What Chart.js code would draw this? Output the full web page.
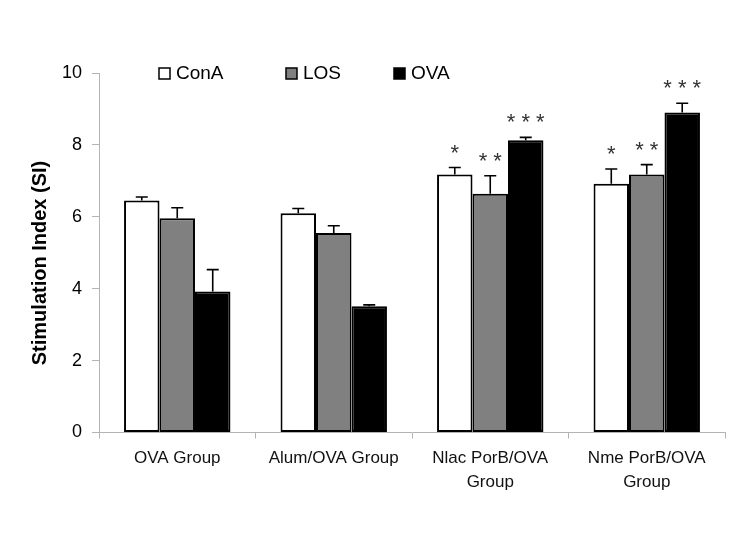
<!DOCTYPE html>
<html>
<head>
<meta charset="utf-8">
<script src="https://cdn.jsdelivr.net/npm/chart.js@4/dist/chart.umd.min.js"></script>
<style>
  body { margin: 0; background: #fff; }
</style>
</head>
<body>
<canvas id="si-chart" width="750" height="536"></canvas>
<script>
// данные графика
const categories = [['OVA Group'], ['Alum/OVA Group'], ['Nlac PorB/OVA', 'Group'], ['Nme PorB/OVA', 'Group']];
const seriesNames = ['ConA', 'LOS', 'OVA'];
const conA = [6.45, 6.10, 7.18, 6.92];
const conAErr = [0.10, 0.13, 0.19, 0.41];
const los = [5.96, 5.55, 6.64, 7.18];
const losErr = [0.29, 0.20, 0.50, 0.27];
const ova = [3.92, 3.51, 8.13, 8.90];
const ovaErr = [0.61, 0.04, 0.08, 0.26];
const conAStars = ['', '', '*', '*'];
const losStars = ['', '', '**', '**'];
const ovaStars = ['', '', '***', '***'];
const yTicks = [0, 2, 4, 6, 8, 10];
const yTitle = 'Stimulation Index (SI)';

const FONT = 'Arial, "Liberation Sans", sans-serif';
const axisColor = '#b4b4b4';

// усы погрешностей (только вверх) и звёздочки
const errorBarsPlugin = {
    id: 'errorBars',
    afterDatasetsDraw(chart) {
        const ctx = chart.ctx;
        const yScale = chart.scales.y;
        chart.data.datasets.forEach((ds, i) => {
            const meta = chart.getDatasetMeta(i);
            meta.data.forEach((bar, j) => {
                const top = yScale.getPixelForValue(ds.data[j] + ds.errors[j]);
                ctx.save();
                ctx.strokeStyle = '#000';
                ctx.lineWidth = 1.6;
                ctx.beginPath();
                ctx.moveTo(bar.x, bar.y);
                ctx.lineTo(bar.x, top);
                ctx.moveTo(bar.x - 6, top);
                ctx.lineTo(bar.x + 6, top);
                ctx.stroke();

                const s = ds.stars[j];
                if (s) {
                    ctx.font = '22px ' + FONT;
                    ctx.fillStyle = '#333';
                    ctx.textAlign = 'center';
                    ctx.textBaseline = 'alphabetic';
                    ctx.fillText(s.split('').join(' '), bar.x, top - 8);
                }
                ctx.restore();
            });
        });
    }
};

// легенда и подпись оси вручную, как на картинке
const legendPlugin = {
    id: 'customLegend',
    afterDraw(chart) {
        const ctx = chart.ctx;
        const xs = [159, 286, 394];
        ctx.save();
        chart.data.datasets.forEach((ds, i) => {
            ctx.fillStyle = ds.backgroundColor;
            ctx.fillRect(xs[i], 68, 11, 11);
            ctx.strokeStyle = '#000';
            ctx.lineWidth = 1.5;
            ctx.strokeRect(xs[i], 68, 11, 11);
            ctx.fillStyle = '#000';
            ctx.font = '19px ' + FONT;
            ctx.textBaseline = 'middle';
            ctx.textAlign = 'left';
            ctx.fillText(ds.label, xs[i] + 17, 74);
        });

        // заголовок оси Y
        ctx.translate(40, 263);
        ctx.rotate(-Math.PI / 2);
        ctx.font = 'bold 20px ' + FONT;
        ctx.textAlign = 'center';
        ctx.textBaseline = 'middle';
        ctx.fillStyle = '#000';
        ctx.fillText(yTitle, 0, 0);
        ctx.restore();
    }
};

const ctx = document.getElementById('si-chart').getContext('2d');
new Chart(ctx, {
    type: 'bar',
    data: {
        labels: categories,
        datasets: [
            { label: seriesNames[0], data: conA, errors: conAErr, stars: conAStars, backgroundColor: '#ffffff', borderColor: '#000', borderWidth: 2 },
            { label: seriesNames[1], data: los, errors: losErr, stars: losStars, backgroundColor: '#808080', borderColor: '#000', borderWidth: 2 },
            { label: seriesNames[2], data: ova, errors: ovaErr, stars: ovaStars, backgroundColor: '#000000', borderColor: '#000', borderWidth: 2 }
        ]
    },
    options: {
        responsive: false,
        animation: false,
        layout: { padding: { top: 73, left: 28, right: 25, bottom: 0 } },
        datasets: {
            bar: { categoryPercentage: 0.68, barPercentage: 1.0, borderSkipped: false }
        },
        plugins: {
            legend: { display: false },
            tooltip: { enabled: false }
        },
        scales: {
            x: {
                grid: { display: true, drawOnChartArea: false, color: axisColor, tickLength: 6, offset: true },
                border: { color: axisColor, width: 1 },
                ticks: {
                    color: '#111',
                    padding: 8,
                    maxRotation: 0,
                    font: { family: FONT, size: 17, lineHeight: 1.4 }
                },
                afterFit(scale) { scale.height = 103.5; }
            },
            y: {
                min: 0,
                max: 10,
                afterBuildTicks(scale) { scale.ticks = yTicks.map(v => ({ value: v })); },
                grid: { display: true, drawOnChartArea: false, color: axisColor, tickLength: 7 },
                border: { color: axisColor, width: 1 },
                ticks: {
                    color: '#000',
                    padding: 10,
                    font: { family: FONT, size: 18 }
                },
                afterFit(scale) { scale.width = 71; }
            }
        }
    },
    plugins: [errorBarsPlugin, legendPlugin]
});
</script>
</body>
</html>
